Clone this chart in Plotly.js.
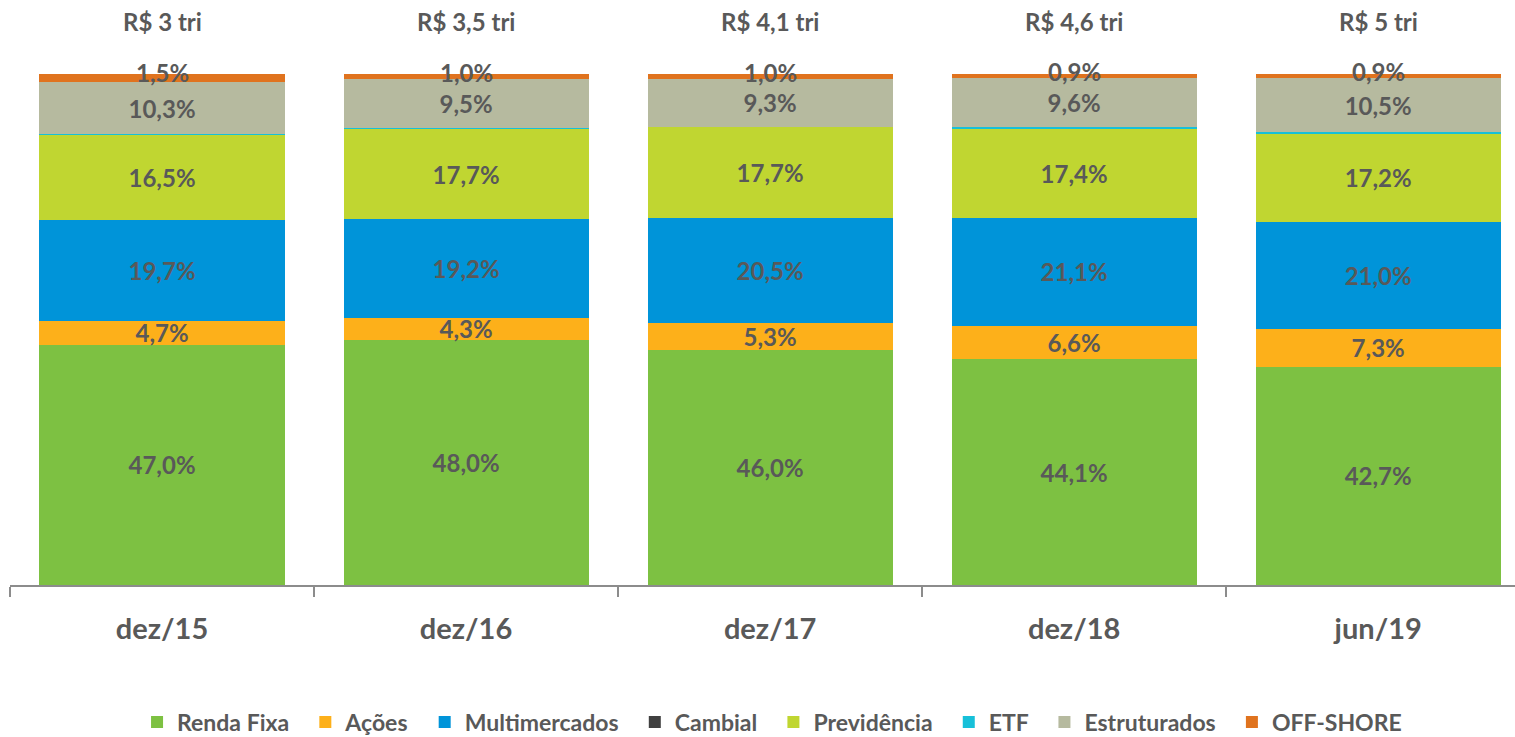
<!DOCTYPE html>
<html>
<head>
<meta charset="utf-8">
<script src="https://cdn.plot.ly/plotly-3.0.1.min.js"></script>
<style>html,body{margin:0;padding:0;background:#fff;}#chart{width:1515px;height:737px;}</style>
</head>
<body>
<div id="chart"></div>
<script>
const categories = ['dez/15', 'dez/16', 'dez/17', 'dez/18', 'jun/19'];
const totals = ['R$ 3 tri', 'R$ 3,5 tri', 'R$ 4,1 tri', 'R$ 4,6 tri', 'R$ 5 tri'];
const rendaFixa = [47.0, 48.0, 46.0, 44.1, 42.7];
const acoes = [4.7, 4.3, 5.3, 6.6, 7.3];
const multimercados = [19.7, 19.2, 20.5, 21.1, 21.0];
const cambial = [0.0, 0.0, 0.0, 0.0, 0.0];
const previdencia = [16.5, 17.7, 17.7, 17.4, 17.2];
const etf = [0.2, 0.2, 0.1, 0.3, 0.4];
const estruturados = [10.3, 9.5, 9.3, 9.6, 10.5];
const offshore = [1.5, 1.0, 1.0, 0.9, 0.9];

const txtColor = '#595959';
const fontFam = 'Lato, "Open Sans", sans-serif';
const pad = '\u00a0\u00a0';

function bar(name, vals, color, showText) {
  return {
    type: 'bar', name: name + pad, x: categories, y: vals,
    marker: {color: color, line: {width: 0}},
    text: showText ? vals.map(v => v.toFixed(1).replace('.', ',') + '%') : undefined,
    texttemplate: showText ? '%{text}' : undefined,
    textposition: showText ? 'inside' : 'none',
    insidetextanchor: 'middle',
    constraintext: 'none',
    textfont: {family: fontFam, size: 24, color: txtColor, weight: 'bold'},
    hoverinfo: 'name+y'
  };
}

const data = [
  bar('Renda Fixa', rendaFixa, '#7DC142', true),
  bar('Ações', acoes, '#FDB01A', true),
  bar('Multimercados', multimercados, '#0094D9', true),
  bar('Cambial', cambial, '#404040', false),
  bar('Previdência', previdencia, '#C0D631', true),
  bar('ETF', etf, '#17C0D9', false),
  bar('Estruturados', estruturados, '#B6BA9F', true),
  bar('OFF-SHORE', offshore, '#E0731E', false)
];

const annotations = [];
categories.forEach((c, i) => {
  const top = rendaFixa[i] + acoes[i] + multimercados[i] + cambial[i] + previdencia[i] + etf[i] + estruturados[i] + offshore[i];
  annotations.push({
    x: c, y: top, xref: 'x', yref: 'y', yanchor: 'middle', yshift: 2,
    text: offshore[i].toFixed(1).replace('.', ',') + '%', showarrow: false,
    font: {family: fontFam, size: 24, color: txtColor, weight: 'bold'}
  });
  annotations.push({
    x: c, y: 1, xref: 'x', yref: 'paper', yanchor: 'bottom', yshift: 10,
    text: totals[i], showarrow: false,
    font: {family: fontFam, size: 24, color: txtColor, weight: 'bold'}
  });
});

const layout = {
  width: 1515, height: 737,
  margin: {l: 10, r: 0, t: 48, b: 152, autoexpand: false},
  paper_bgcolor: '#fff', plot_bgcolor: '#fff',
  barmode: 'stack', bargap: 0.194,
  separators: ',.',
  showlegend: true,
  font: {family: fontFam, color: txtColor},
  xaxis: {
    type: 'category', range: [-0.5, 4.45], automargin: false,
    showline: true, linecolor: '#8c8c8c', linewidth: 1.5,
    ticks: 'outside', tickson: 'boundaries', ticklen: 10, tickcolor: '#8c8c8c', tickwidth: 1.5,
    tickfont: {family: fontFam, size: 29, color: txtColor, weight: 'bold'},
    ticklabelstandoff: 18,
    showgrid: false, zeroline: false, fixedrange: true
  },
  yaxis: {
    range: [0, 105], visible: false, showgrid: false, zeroline: false, fixedrange: true
  },
  legend: {
    orientation: 'h', x: 0.51, xanchor: 'center', y: -0.255, yanchor: 'middle',
    font: {family: fontFam, size: 23, color: txtColor, weight: 'bold'},
    traceorder: 'normal', itemwidth: 30
  },
  annotations: annotations
};

Plotly.newPlot('chart', data, layout, {staticPlot: true, displayModeBar: false});
</script>
</body>
</html>
